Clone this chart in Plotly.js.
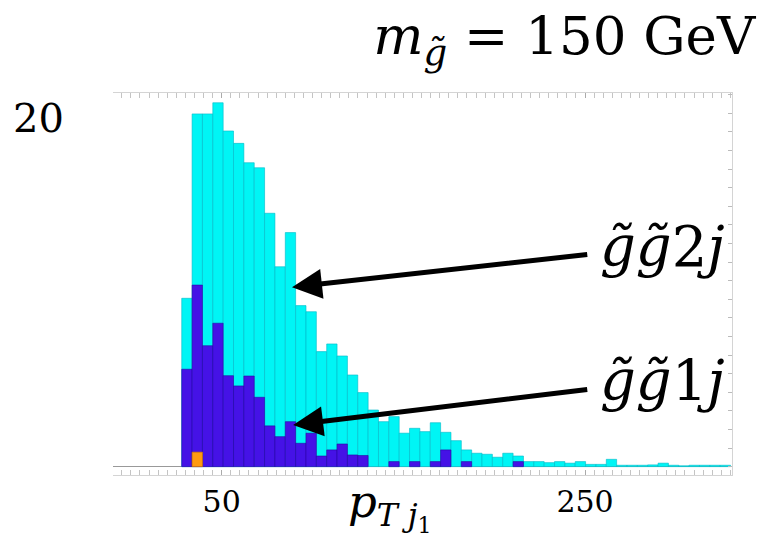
<!DOCTYPE html>
<html>
<head>
<meta charset="utf-8">
<script src="https://cdn.plot.ly/plotly-3.0.1.min.js"></script>
<style>html,body{margin:0;padding:0;background:#fff;}#chart{width:766px;height:542px;}</style>
</head>
<body>
<div id="chart"></div>
<script>
// Histogram of leading-jet pT (GeV), bins
var binStart = 28;      // GeV, lower edge of first bin
var binWidth = 5.7;     // GeV
// gg~2j (cyan) bin heights
var gg2j = [9.66, 20.24, 20.24, 20.88, 19.26, 18.55, 17.44, 17.15, 14.54, 11.47,
            13.43, 9.24, 8.89, 6.60, 7.04, 6.35, 5.26, 4.25, 3.25, 2.58,
            2.87, 1.92, 2.20, 2.01, 2.52, 1.97, 1.49, 0.96, 0.77, 0.71,
            0.54, 0.77, 0.61, 0.29, 0.29, 0.23, 0.29, 0.20, 0.29, 0.13,
            0.13, 0.42, 0.08, 0.08, 0.08, 0.10, 0.20, 0.08, 0.05, 0.08,
            0.08, 0.08, 0.08];
// gg~1j (blue) bin heights
var gg1j = [5.59, 10.42, 6.94, 8.23, 5.22, 4.63, 5.20, 3.98, 2.34, 1.72,
            2.58, 1.34, 1.92, 0.61, 0.96, 1.30, 0.67, 0.64, null, null,
            0.29, null, 0.29, null, 0.29, 0.96, null, 0.29, null, null,
            null, null, 0.29, null, null, null, null, null, null, null,
            null, null, null, null, null, null, null, null, null, null,
            null, null, null];
// third (orange) sample
var gg0j = [null, 0.83];

var yTickVals = [20];
var yTickText = ['20'];
var xTickVals = [50, 250];
var xTickText = ['50', '250'];

function centers(n) {
  var c = [];
  for (var i = 0; i < n; i++) c.push(binStart + binWidth * (i + 0.5));
  return c;
}

var serif = 'DejaVu Serif, Liberation Serif, serif';

var traces = [
  {type: 'bar', x: centers(gg2j.length), y: gg2j, width: binWidth, name: 'g̃g̃2j',
   marker: {color: '#00f5f5', line: {color: 'rgba(0,185,200,0.6)', width: 1}}, hoverinfo: 'x+y'},
  {type: 'bar', x: centers(gg1j.length), y: gg1j, width: binWidth, name: 'g̃g̃1j',
   marker: {color: '#4512e6', line: {color: 'rgba(40,0,160,0.55)', width: 1}}, hoverinfo: 'x+y'},
  {type: 'bar', x: centers(gg0j.length), y: gg0j, width: binWidth, name: 'other',
   marker: {color: '#ff9a10', line: {color: 'rgba(210,120,0,0.7)', width: 1}}, hoverinfo: 'x+y'},
  {type: 'scatter', x: [null], y: [null], yaxis: 'y2', showlegend: false, hoverinfo: 'skip'}
];

var layout = {
  width: 766, height: 542,
  margin: {l: 113, r: 34, t: 93, b: 67},
  paper_bgcolor: '#fff', plot_bgcolor: '#fff',
  barmode: 'overlay', bargap: 0,
  showlegend: false,
  title: {
    text: '<i>m</i><sub><i>g̃</i></sub> = 150 GeV',
    font: {family: serif, size: 53, color: '#000'},
    x: 0.986, xanchor: 'right', xref: 'container',
    y: 0.935, yanchor: 'middle', yref: 'container'
  },
  xaxis: {
    range: [-9.84, 330.9],
    tickmode: 'array', tickvals: xTickVals, ticktext: xTickText,
    ticks: 'inside', ticklen: 5, tickcolor: '#aaa', tickwidth: 1,
    minor: {tickmode: 'linear', tick0: 0, dtick: 5, ticks: 'inside', ticklen: 2.5, tickcolor: '#c4c4c4'},
    showline: true, linecolor: '#d4d4d4', linewidth: 1, mirror: 'allticks',
    showgrid: false, zeroline: false,
    tickfont: {family: serif, size: 30, color: '#000'},
    ticklabelstandoff: 0
  },
  yaxis: {
    range: [-0.48, 21.44],
    tickmode: 'array', tickvals: yTickVals, ticktext: yTickText,
    ticks: '', showline: false, showgrid: false,
    zeroline: true, zerolinecolor: '#999', zerolinewidth: 1.5,
    tickfont: {family: serif, size: 40, color: '#000'},
    ticklabelstandoff: 48
  },
  yaxis2: {
    overlaying: 'y', side: 'right',
    range: [-0.446, 20.09], dtick: 1, tick0: 0,
    ticks: 'inside', ticklen: 4, tickcolor: '#bbb',
    showline: true, linecolor: '#d4d4d4', linewidth: 1,
    showticklabels: false, showgrid: false, zeroline: false
  },
  annotations: [
    {x: 88.7, y: 10.3, ax: 292.5, ay: 12.65, xref: 'x', yref: 'y', axref: 'x', ayref: 'y',
     text: '<i>g̃g̃</i>2<i>j</i>', font: {family: serif, size: 56, color: '#000'},
     borderpad: 12,
     showarrow: true, arrowhead: 2, arrowwidth: 5, arrowsize: 1.2, arrowcolor: '#000'},
    {x: 89.3, y: 2.39, ax: 292.5, ay: 4.95, xref: 'x', yref: 'y', axref: 'x', ayref: 'y',
     text: '<i>g̃g̃</i>1<i>j</i>', font: {family: serif, size: 56, color: '#000'},
     borderpad: 12,
     showarrow: true, arrowhead: 2, arrowwidth: 5, arrowsize: 1.2, arrowcolor: '#000'},
    {x: 0.4475, y: -0.082, xref: 'paper', yref: 'paper', showarrow: false,
     text: '<i>p</i><sub><i>T j</i><sub>1</sub></sub>', font: {family: serif, size: 45, color: '#000'},
     xanchor: 'center', yanchor: 'middle'}
  ]
};

Plotly.newPlot('chart', traces, layout, {staticPlot: true, displayModeBar: false});
</script>
</body>
</html>
